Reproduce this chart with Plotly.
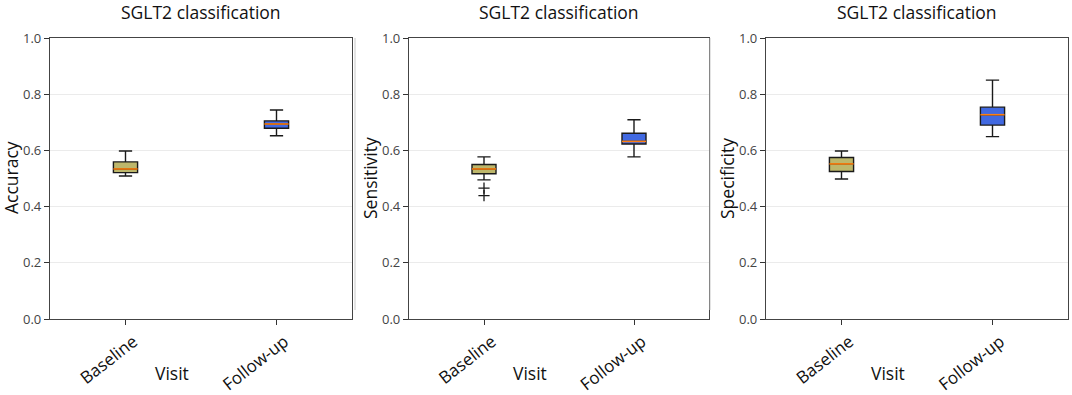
import plotly.graph_objects as go

# ---- data ----
visits = ["Baseline", "Follow-up"]
positions = [1, 2]
metrics = ["Accuracy", "Sensitivity", "Specificity"]

acc_q1 = [0.521, 0.679]
acc_median = [0.534, 0.694]
acc_q3 = [0.559, 0.705]
acc_low = [0.509, 0.652]
acc_high = [0.598, 0.744]

sen_q1 = [0.517, 0.623]
sen_median = [0.534, 0.632]
sen_q3 = [0.550, 0.661]
sen_low = [0.495, 0.577]
sen_high = [0.577, 0.709]
sen_outliers_baseline = [0.466, 0.439]

spe_q1 = [0.525, 0.690]
spe_median = [0.552, 0.727]
spe_q3 = [0.575, 0.754]
spe_low = [0.498, 0.649]
spe_high = [0.598, 0.850]

yticks = [0.0, 0.2, 0.4, 0.6, 0.8, 1.0]
ytick_text = ["0.0", "0.2", "0.4", "0.6", "0.8", "1.0"]

stats = [
    (acc_q1, acc_median, acc_q3, acc_low, acc_high, []),
    (sen_q1, sen_median, sen_q3, sen_low, sen_high, sen_outliers_baseline),
    (spe_q1, spe_median, spe_q3, spe_low, spe_high, []),
]

# ---- style ----
box_colors = ["#BDB76B", "#4169E1"]
median_color = "#ff7f0e"
box_width = 0.16
W, H = 1072, 395
x_px = [(50, 352), (409, 709), (766, 1068)]
y_top, y_bot = 38, 319
title_font = "Open Sans, Liberation Sans, sans-serif"

fig = go.Figure()
annotations = []
shapes = []

for i, (q1, med, q3, lo, hi, outl) in enumerate(stats):
    n = "" if i == 0 else str(i + 1)
    xa, ya = "x" + n, "y" + n
    for j in range(2):
        fig.add_trace(go.Box(
            x=[positions[j]], q1=[q1[j]], median=[med[j]], q3=[q3[j]],
            lowerfence=[lo[j]], upperfence=[hi[j]],
            width=box_width, whiskerwidth=0.55,
            fillcolor=box_colors[j], line=dict(color="#1a1a1a", width=1.4),
            boxpoints=False, xaxis=xa, yaxis=ya, showlegend=False,
            hoverinfo="skip",
        ))
        fig.add_trace(go.Scatter(
            x=[positions[j] - box_width / 2, positions[j] + box_width / 2],
            y=[med[j], med[j]], mode="lines",
            line=dict(color=median_color, width=1.6),
            xaxis=xa, yaxis=ya, showlegend=False, hoverinfo="skip",
        ))
    if outl:
        fig.add_trace(go.Scatter(
            x=[positions[0]] * len(outl), y=outl, mode="markers",
            marker=dict(symbol="cross-thin", size=8,
                        line=dict(color="#1a1a1a", width=1.3)),
            xaxis=xa, yaxis=ya, showlegend=False, hoverinfo="skip",
        ))

    x0, x1 = x_px[i]
    dom_x = [x0 / W, x1 / W]
    dom_y = [(H - y_bot) / H, (H - y_top) / H]
    fig.update_layout(**{
        "xaxis" + n: dict(
            domain=dom_x, range=[0.5, 2.5], tickvals=positions, ticktext=visits,
            tickangle=-38, ticks="outside", ticklen=5, tickcolor="#333",
            ticklabelshift=8,
            tickfont=dict(family=title_font, size=17, color="#111"),
            showline=True, linecolor="#444", linewidth=1.3, mirror=True,
            showgrid=False, zeroline=False, anchor=ya, fixedrange=True,
            automargin=False,
        ),
        "yaxis" + n: dict(
            domain=dom_y, range=[0, 1], tickvals=yticks, ticktext=ytick_text,
            ticks="outside", ticklen=5, tickcolor="#333",
            tickfont=dict(family=title_font, size=13, color="#444"),
            showline=True, linecolor="#444", linewidth=1.3, mirror=True,
            showgrid=True, gridcolor="#ebebeb", gridwidth=1,
            zeroline=False, anchor=xa, fixedrange=True, automargin=False,
        ),
    })
    cx = (x0 + x1) / 2
    annotations.append(dict(
        text="SGLT2 classification", x=cx / W, y=1 - 12 / H,
        xref="paper", yref="paper", showarrow=False,
        xanchor="center", yanchor="middle",
        font=dict(family=title_font, size=17.5, color="#111"),
    ))
    annotations.append(dict(
        text="Visit", x=(cx - 29) / W, y=1 - 373 / H,
        xref="paper", yref="paper", showarrow=False,
        xanchor="center", yanchor="middle",
        font=dict(family=title_font, size=17.5, color="#111"),
    ))
    annotations.append(dict(
        text=metrics[i], x=(x0 - 39) / W, y=1 - 178 / H,
        xref="paper", yref="paper", showarrow=False, textangle=-90,
        xanchor="center", yanchor="middle",
        font=dict(family=title_font, size=17.5, color="#111"),
    ))

# faint separators between panels
for sx in [355, 710]:
    shapes.append(dict(type="line", xref="paper", yref="paper",
                       x0=sx / W, x1=sx / W, y0=1 - 38 / H, y1=1 - 310 / H,
                       line=dict(color="#c8c8c8", width=1)))

fig.update_layout(
    width=W, height=H, margin=dict(l=0, r=0, t=0, b=0),
    paper_bgcolor="white", plot_bgcolor="white",
    annotations=annotations, shapes=shapes, showlegend=False,
)

post = (
    "var gd=document.getElementById('{plot_id}');"
    "gd.style.position='fixed';gd.style.top='0px';gd.style.left='0px';"
    "document.body.style.margin='0';"
    "document.documentElement.style.overflow='hidden';"
    "document.body.style.overflow='hidden';"
)
fig.write_html("out.html", config={"displayModeBar": False}, post_script=post)
